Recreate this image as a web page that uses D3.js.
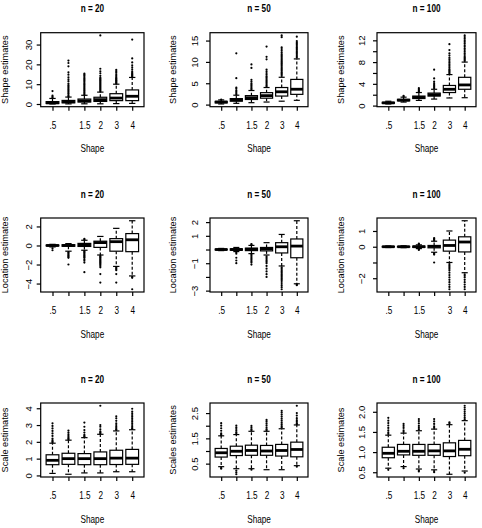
<!DOCTYPE html>
<html>
<head>
<meta charset="utf-8">
<script src="https://cdn.jsdelivr.net/npm/d3@7"></script>
<style>
  body { margin: 0; background: #fff; }
  text { font-family: "Liberation Sans", Arial, Helvetica, sans-serif; fill: #000; }
</style>
</head>
<body>
<div id="chart"></div>
<script>
// categories (true shape parameter) and x tick labels
const shapes = [".5", "1", "1.5", "2", "3", "4"];
const sampleSizes = ["n = 20", "n = 50", "n = 100"];

// box stats per panel: [lower whisker, q1, median, q3, upper whisker]
const shape20Stats = [[0.02, 0.25, 0.6, 1.2, 2.8], [0.05, 0.6, 1.1, 1.8, 3.5], [0.1, 1.0, 1.6, 2.5, 4.4],
  [0.1, 1.3, 2.2, 3.4, 6.0], [0.2, 1.7, 3.0, 5.2, 10.0], [0.3, 1.7, 3.9, 7.1, 13.4]];
const shape20Out = [[3.1, 3.6, 4.2, 6.5],
  [3.7, 4.3, 5.0, 5.6, 6.3, 7.0, 7.6, 8.3, 9.0, 9.6, 10.3, 11.5, 12.5, 13.5, 14.8, 16, 19, 20.7, 21.9],
  [4.6, 5.2, 5.8, 6.4, 7, 7.6, 8.2, 8.8, 9.4, 10, 10.6, 11.2, 11.8, 12.4, 13, 13.6, 14.2, 14.8, 15.3],
  [6.3, 6.8, 7.3, 7.8, 8.3, 8.8, 9.3, 9.8, 10.3, 10.8, 11.3, 11.8, 12.3, 12.8, 13.3, 14.2, 15.5, 16.5, 17.8, 34.6],
  [10.3, 10.7, 11.1, 11.5, 11.9, 12.3, 12.7, 13.1, 13.6, 14.2, 15, 15.8, 16.5, 17.2],
  [13.7, 14.1, 14.5, 14.9, 15.3, 15.8, 16.5, 17.5, 18.5, 19.5, 21, 23, 32.5]];

const shape50Stats = [[0.15, 0.4, 0.6, 0.75, 1.1], [0.3, 0.8, 1.1, 1.4, 2.2], [0.45, 1.2, 1.6, 2.1, 3.3],
  [0.6, 1.5, 2.1, 2.8, 4.0], [0.8, 2.0, 3.0, 4.0, 6.4], [1.0, 2.4, 3.6, 5.9, 10.7]];
const shape50Out = [[1.2],
  [2.4, 2.7, 3.0, 3.3, 3.7, 4.0, 6.2, 12.0],
  [3.5, 3.8, 4.1, 4.4, 4.7, 5.0, 5.4, 5.8, 8.6, 9.4],
  [4.2, 4.5, 4.8, 5.1, 5.4, 5.7, 6.0, 6.3, 6.6, 7.0, 7.4, 7.8, 8.2, 10.6, 11.2, 13.6],
  [6.7, 7.0, 7.3, 7.6, 7.9, 8.2, 8.5, 8.8, 9.1, 9.4, 9.7, 10.0, 10.3, 10.6, 10.9, 11.2, 11.5, 11.8, 12.2, 12.6, 13.0, 13.4, 15.8, 16.2],
  [11.0, 11.3, 11.6, 11.9, 12.2, 12.5, 12.8, 13.1, 13.4, 13.7, 14.0, 14.3, 14.6, 14.9, 15.9]];

const shape100Stats = [[0.3, 0.42, 0.5, 0.6, 0.8], [0.65, 0.88, 1.0, 1.15, 1.55], [0.95, 1.3, 1.5, 1.75, 2.4],
  [1.2, 1.75, 2.0, 2.3, 3.0], [1.4, 2.4, 3.0, 3.7, 5.7], [1.45, 3.0, 3.8, 5.2, 8.0]];
const shape100Out = [[],
  [1.65, 1.8],
  [2.5, 2.65, 2.8, 3.0, 3.2],
  [3.2, 3.4, 3.6, 3.8, 4.1, 4.4, 5.0, 6.6],
  [5.9, 6.1, 6.3, 6.5, 6.7, 7.0, 7.3, 7.6, 7.9, 8.2, 8.5, 8.8, 9.2, 9.6, 10.2, 11.3],
  [8.2, 8.4, 8.6, 8.8, 9.0, 9.3, 9.6, 9.9, 10.2, 10.5, 10.8, 11.1, 11.4, 11.7, 12.0, 12.3, 12.6, 12.9]];

const loc20Stats = [[-0.15, -0.04, 0, 0.04, 0.12], [-0.6, -0.08, 0, 0.08, 0.2], [-0.5, -0.1, 0.08, 0.22, 0.55],
  [-1.0, -0.2, 0.3, 0.45, 0.95], [-2.2, -0.6, 0.4, 0.72, 1.8], [-3.2, -0.65, 0.6, 1.25, 2.6]];
const loc20Out = [[-0.3, -0.5],
  [-0.7, -0.8, -0.9, -1.0, -1.1, -1.2, -1.3, -2.0],
  [0.62, 0.7, -0.6, -0.7, -0.8, -0.9, -1.0, -1.1, -1.2, -1.3, -1.45, -1.6, -1.8, -2.8],
  [-1.1, -1.2, -1.3, -1.4, -1.5, -1.6, -1.7, -1.8, -1.9, -2.0, -2.15, -2.3, -3.0, -3.9],
  [-2.3, -2.4, -2.5, -2.6, -3.0, -3.9],
  [-3.3, -3.4, -4.6]];

const loc50Stats = [[-0.08, -0.03, 0, 0.03, 0.08], [-0.15, -0.05, 0, 0.05, 0.15], [-0.3, -0.08, 0.02, 0.1, 0.3],
  [-0.4, -0.1, 0.05, 0.15, 0.5], [-1.2, -0.25, 0.2, 0.5, 1.1], [-2.5, -0.6, 0.25, 0.77, 2.1]];
const loc50Out = [[],
  [-0.2, -0.3, -0.6, -0.8, -1.0],
  [0.35, 0.4, -0.35, -0.45, -0.55, -0.65, -0.75, -0.85, -0.95, -1.1],
  [-0.5, -0.6, -0.7, -0.8, -0.9, -1.0, -1.2, -1.4, -1.6, -1.8, -2.0],
  [-1.3, -1.4, -1.5, -1.6, -1.7, -1.8, -1.9, -2.0, -2.1, -2.2, -2.3, -2.45, -2.6, -2.75, -2.9],
  [-2.55, -2.6]];

const loc100Stats = [[-0.05, -0.02, 0, 0.02, 0.05], [-0.06, -0.02, 0, 0.02, 0.06], [-0.12, -0.04, 0, 0.04, 0.12],
  [-0.35, -0.07, 0.02, 0.08, 0.35], [-1.0, -0.28, 0.08, 0.42, 1.0], [-1.65, -0.33, 0.3, 0.63, 1.65]];
const loc100Out = [[],
  [],
  [0.16, 0.2, -0.16, -0.2],
  [0.4, 0.45, 0.5, 0.55, -0.4, -0.45, -0.5, -1.0],
  [-1.1, -1.2, -1.3, -1.4, -1.5, -1.65, -1.8, -1.95, -2.1, -2.25, -2.4, -2.55, -2.7],
  [-1.75, -1.85, -1.95, -2.1, -2.25, -2.4, -2.55, -2.7]];

const scale20Stats = [[0.12, 0.64, 0.9, 1.23, 1.92], [0.07, 0.66, 1.0, 1.32, 2.1], [0.15, 0.64, 1.0, 1.3, 2.25],
  [0.15, 0.64, 1.0, 1.4, 2.45], [0.22, 0.65, 1.03, 1.5, 2.65], [0.22, 0.66, 1.03, 1.55, 2.72]];
const scale20Out = [[1.97, 2.02, 2.1, 2.2, 2.35, 2.5, 2.65, 2.8, 2.95, 3.1],
  [2.15, 2.2, 2.27, 2.35, 2.45, 2.55, 2.67],
  [2.3, 2.35, 2.42, 2.55, 2.7, 2.9, 3.15],
  [2.5, 2.55, 2.62, 2.75, 2.9, 3.0, 4.15],
  [2.7, 2.75, 2.82, 2.9, 3.0, 3.1, 3.25, 3.4, 3.52],
  [2.77, 2.82, 2.9, 3.0, 3.1, 3.2, 3.3, 3.4, 3.5, 3.6, 3.7, 3.8, 3.97]];

const scale50Stats = [[0.38, 0.76, 0.93, 1.1, 1.6], [0.3, 0.82, 0.99, 1.19, 1.65], [0.3, 0.83, 1.02, 1.23, 1.78],
  [0.26, 0.83, 1.0, 1.22, 1.78], [0.26, 0.8, 1.02, 1.26, 1.88], [0.42, 0.77, 1.06, 1.35, 2.03]];
const scale50Out = [[1.62, 1.66, 1.7, 1.8, 1.9, 2.0, 2.1, 0.33, 0.3],
  [1.7, 1.74, 1.8, 1.87, 1.93, 2.0, 0.22, 0.15, 0.08],
  [1.82, 1.86, 1.92, 1.99, 0.26],
  [1.82, 1.86, 1.92, 2.0, 2.08, 2.16, 2.23],
  [1.93, 1.98, 2.05, 2.12, 2.2, 2.28, 2.36, 2.44, 2.52, 2.59],
  [2.06, 2.1, 2.16, 2.22, 2.3, 2.4, 2.5, 2.79, 0.38]];

const scale100Stats = [[0.6, 0.86, 0.97, 1.12, 1.42], [0.64, 0.93, 1.02, 1.19, 1.47], [0.58, 0.92, 1.02, 1.19, 1.53],
  [0.56, 0.92, 1.03, 1.19, 1.57], [0.45, 0.89, 1.03, 1.23, 1.68], [0.53, 0.91, 1.07, 1.29, 1.78]];
const scale100Out = [[1.45, 1.49, 1.54, 1.6, 1.66, 1.72, 1.78, 1.85, 0.56],
  [1.5, 1.54, 1.6, 1.65, 1.7, 0.6],
  [1.56, 1.6, 1.65, 1.71, 1.77, 1.82, 0.55, 0.52],
  [1.6, 1.64, 1.7, 1.76, 1.82, 0.53, 0.5],
  [1.71, 1.74],
  [1.81, 1.85, 1.9, 1.95, 2.0, 2.05, 2.1, 2.15, 0.49]];

// y tick values, and the ones that carry a label
const shape20Ticks = [0, 10, 20, 30], shape20Labels = [0, 10, 20, 30];
const shape50Ticks = [0, 5, 10, 15], shape50Labels = [0, 5, 10, 15];
const shape100Ticks = [0, 2, 4, 6, 8, 10, 12], shape100Labels = [0, 4, 8, 12];
const loc20Ticks = [-4, -2, 0, 2], loc20Labels = [-4, -2, 0, 2];
const loc50Ticks = [-3, -2, -1, 0, 1, 2], loc50Labels = [-3, -1, 1, 2];
const loc100Ticks = [-2, -1, 0, 1], loc100Labels = [-2, 0, 1];
const scale20Ticks = [0, 1, 2, 3, 4], scale20Labels = [0, 1, 2, 3, 4];
const scale50Ticks = [0.5, 1, 1.5, 2, 2.5], scale50Labels = [0.5, 1.5, 2.5];
const scale100Ticks = [0.5, 1, 1.5, 2], scale100Labels = [0.5, 1, 1.5, 2];

const panels = [
  { ylab: "Shape estimates", stats: shape20Stats, out: shape20Out, ticks: shape20Ticks, labels: shape20Labels, fmt: "d", hideX: [1] },
  { ylab: "Shape estimates", stats: shape50Stats, out: shape50Out, ticks: shape50Ticks, labels: shape50Labels, fmt: "d", hideX: [1] },
  { ylab: "Shape estimates", stats: shape100Stats, out: shape100Out, ticks: shape100Ticks, labels: shape100Labels, fmt: "d", hideX: [1] },
  { ylab: "Location estimates", stats: loc20Stats, out: loc20Out, ticks: loc20Ticks, labels: loc20Labels, fmt: "d", hideX: [1] },
  { ylab: "Location estimates", stats: loc50Stats, out: loc50Out, ticks: loc50Ticks, labels: loc50Labels, fmt: "d", hideX: [1] },
  { ylab: "Location estimates", stats: loc100Stats, out: loc100Out, ticks: loc100Ticks, labels: loc100Labels, fmt: "d", hideX: [1, 3] },
  { ylab: "Scale estimates", stats: scale20Stats, out: scale20Out, ticks: scale20Ticks, labels: scale20Labels, fmt: "d", hideX: [1] },
  { ylab: "Scales estimates", stats: scale50Stats, out: scale50Out, ticks: scale50Ticks, labels: scale50Labels, fmt: ".1f", hideX: [1] },
  { ylab: "Scale estimates", stats: scale100Stats, out: scale100Out, ticks: scale100Ticks, labels: scale100Labels, fmt: ".1f", hideX: [1] }
];

// layout
const width = 482, height = 528;
const colLeft = [40.7, 210, 377], colRight = [144, 308, 476];
const rowTop = [32.7, 218, 403], rowBottom = [106.7, 292, 477];
const yLabelOff = [12.5, 15, 15.3];   // tick label centre, left of plot
const yTitleOff = [35.5, 37.7, 36.3]; // axis title centre, left of plot
const squeeze = "scale(0.82,1)";      // horizontal text is a bit narrow in the original
const lw = 1.2;

const svg = d3.select("#chart").append("svg")
  .attr("width", width)
  .attr("height", height);

panels.forEach((p, i) => {
  const col = i % 3, row = Math.floor(i / 3);
  const left = colLeft[col], right = colRight[col];
  const top = rowTop[row], bottom = rowBottom[row];

  const x = d3.scaleLinear().domain([0.26, 6.74]).range([left, right]);
  const unit = x(1) - x(0);
  const [lo, hi] = d3.extent(p.stats.flat().concat(p.out.flat()));
  const pad = 0.04 * (hi - lo);
  const y = d3.scaleLinear().domain([lo - pad, hi + pad]).range([bottom, top]);

  const g = svg.append("g");

  // boxes
  p.stats.forEach((s, j) => {
    const cx = x(j + 1);
    const [wl, q1, med, q3, wh] = s;
    const b = g.append("g");
    b.selectAll("line.whisker")
      .data([[q3, wh], [q1, wl]])
      .enter().append("line")
      .attr("x1", cx).attr("x2", cx)
      .attr("y1", d => y(d[0])).attr("y2", d => y(d[1]))
      .attr("stroke", "#000").attr("stroke-width", lw)
      .attr("stroke-dasharray", "3,2");
    b.selectAll("line.cap")
      .data([wl, wh])
      .enter().append("line")
      .attr("x1", cx - 0.2 * unit).attr("x2", cx + 0.2 * unit)
      .attr("y1", d => y(d)).attr("y2", d => y(d))
      .attr("stroke", "#000").attr("stroke-width", lw);
    b.append("rect")
      .attr("x", cx - 0.4 * unit)
      .attr("y", y(q3))
      .attr("width", 0.8 * unit)
      .attr("height", Math.max(0.5, y(q1) - y(q3)))
      .attr("fill", "#fff")
      .attr("stroke", "#000").attr("stroke-width", lw);
    b.append("line")
      .attr("x1", cx - 0.4 * unit).attr("x2", cx + 0.4 * unit)
      .attr("y1", y(med)).attr("y2", y(med))
      .attr("stroke", "#000").attr("stroke-width", 2.8);
    b.selectAll("circle")
      .data(p.out[j])
      .enter().append("circle")
      .attr("cx", cx)
      .attr("cy", d => y(d))
      .attr("r", 1.1)
      .attr("fill", "#000");
  });

  // frame
  g.append("rect")
    .attr("x", left).attr("y", top)
    .attr("width", right - left).attr("height", bottom - top)
    .attr("fill", "none").attr("stroke", "#000").attr("stroke-width", lw);

  // y axis
  const fmt = d3.format(p.fmt);
  const yAxis = g.append("g")
    .attr("transform", `translate(${left},0)`)
    .call(d3.axisLeft(y).tickValues(p.ticks).tickSize(4)
      .tickFormat(d => p.labels.includes(d) ? fmt(d) : ""));
  yAxis.select(".domain").remove();
  yAxis.selectAll(".tick line").attr("stroke", "#000").attr("stroke-width", lw);
  yAxis.selectAll(".tick text")
    .attr("x", null).attr("dy", "0.35em")
    .attr("text-anchor", "middle")
    .attr("transform", `translate(${-yLabelOff[col]},0) rotate(-90)`)
    .attr("font-size", 9.5)
    .attr("font-family", null);

  // x axis
  const xAxis = g.append("g")
    .attr("transform", `translate(0,${bottom})`)
    .call(d3.axisBottom(x).tickValues([1, 2, 3, 4, 5, 6]).tickSize(4)
      .tickFormat((d, k) => p.hideX.includes(k) ? "" : shapes[k]));
  xAxis.select(".domain").remove();
  xAxis.selectAll(".tick line").attr("stroke", "#000").attr("stroke-width", lw);
  xAxis.selectAll(".tick text")
    .attr("y", 18.5).attr("dy", "0.35em")
    .attr("transform", squeeze)
    .attr("font-size", 10)
    .attr("font-family", null);

  const midX = (left + right) / 2;
  const midY = (top + bottom) / 2;

  // title
  g.append("text")
    .attr("transform", `translate(${midX},${top - 24}) ${squeeze}`)
    .attr("dy", "0.35em")
    .attr("text-anchor", "middle")
    .attr("font-size", 10)
    .attr("font-weight", "bold")
    .text(sampleSizes[col]);

  // x title
  g.append("text")
    .attr("transform", `translate(${midX},${bottom + 42}) ${squeeze}`)
    .attr("dy", "0.35em")
    .attr("text-anchor", "middle")
    .attr("font-size", 10)
    .text("Shape");

  // y title
  g.append("text")
    .attr("transform", `translate(${left - yTitleOff[col]},${midY}) rotate(-90)`)
    .attr("dy", "0.35em")
    .attr("text-anchor", "middle")
    .attr("font-size", 9.2)
    .text(p.ylab);
});
</script>
